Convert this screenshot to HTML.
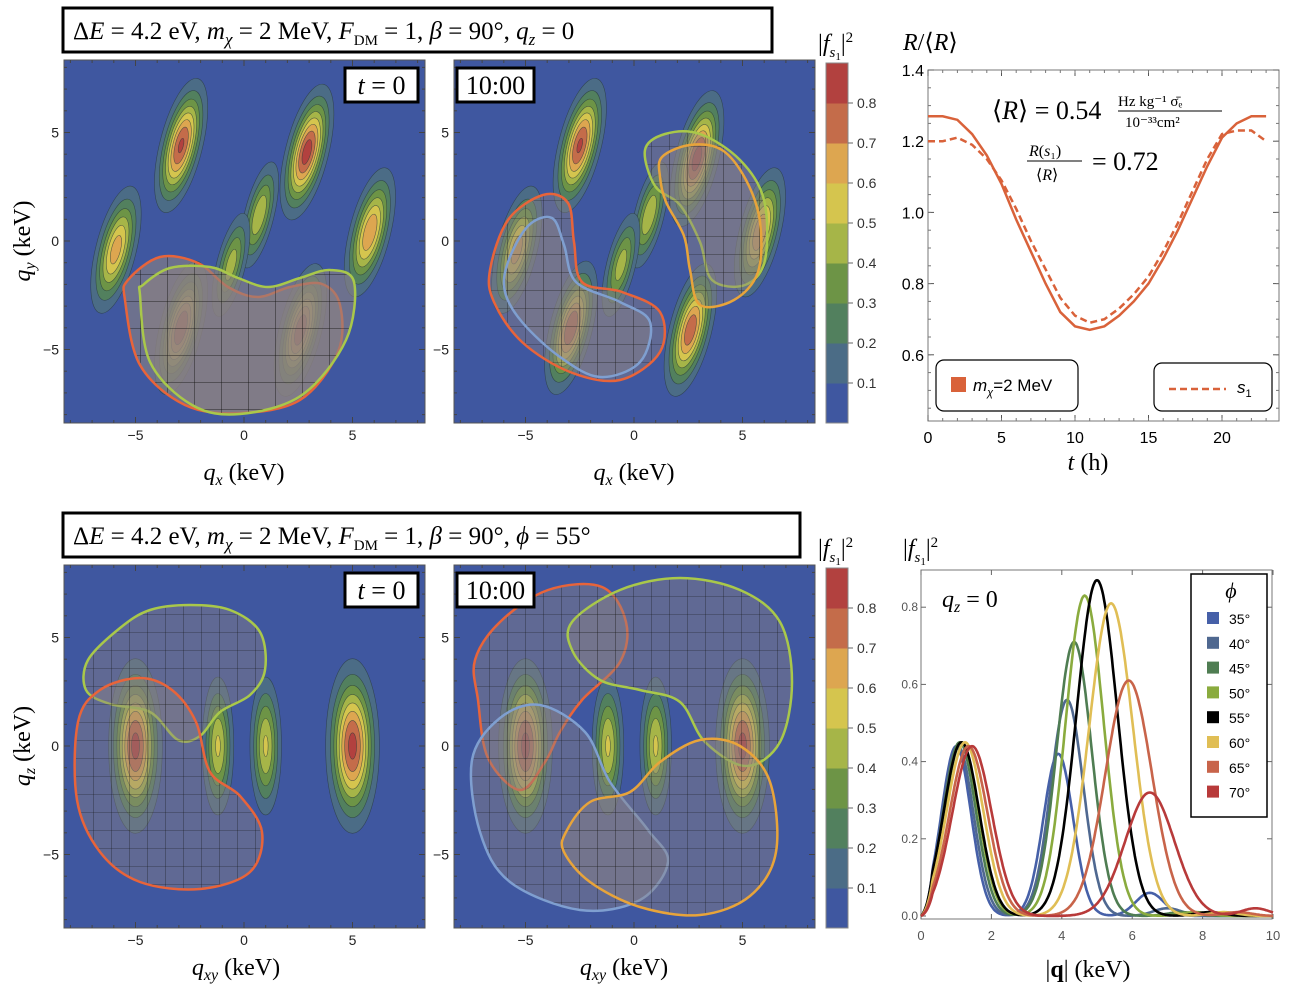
<!DOCTYPE html>
<html><head><meta charset="utf-8"><style>
body{margin:0;background:#fff}
svg{display:block;font-family:"Liberation Sans",sans-serif}
.serif{font-family:"Liberation Serif",serif}
</style></head><body>
<svg id="fig" width="1291" height="991" viewBox="0 0 1291 991" xmlns="http://www.w3.org/2000/svg">
<defs>
<pattern id="grid27" width="27" height="27" patternUnits="userSpaceOnUse" x="5" y="4"><rect width="27" height="27" fill="rgba(140,130,130,0.6)"/><path d="M0 0H27M0 0V27" stroke="#111" stroke-width="0.8"/></pattern>
<pattern id="grid18" width="18" height="18" patternUnits="userSpaceOnUse" x="3" y="2"><rect width="18" height="18" fill="rgba(140,130,130,0.42)"/><path d="M0 0H18M0 0V18" stroke="#111" stroke-width="0.6"/></pattern>
<clipPath id="c1"><rect x="64" y="60" width="361" height="363"/></clipPath>
<clipPath id="c2"><rect x="454" y="60" width="361" height="363"/></clipPath>
<clipPath id="c3"><rect x="64" y="565" width="361" height="363"/></clipPath>
<clipPath id="c4"><rect x="454" y="565" width="361" height="363"/></clipPath>
</defs>
<g id="root"></g>
</svg>
<script>
// ---------- data ----------
const hours=[0,1,2,3,4,5,6,7,8,9,10,11,12,13,14,15,16,17,18,19,20,21,22,23];
const rateTotal=[1.27,1.27,1.26,1.22,1.16,1.08,0.98,0.89,0.80,0.72,0.68,0.67,0.68,0.71,0.75,0.80,0.87,0.95,1.04,1.13,1.21,1.25,1.27,1.27];
const rateS1=[1.20,1.20,1.21,1.19,1.15,1.09,1.01,0.92,0.84,0.76,0.71,0.69,0.70,0.73,0.77,0.82,0.89,0.97,1.06,1.15,1.22,1.23,1.23,1.20];
const rTicks=[0.6,0.8,1.0,1.2,1.4];
const tTicks=[0,5,10,15,20];
const phiLabels=["35°","40°","45°","50°","55°","60°","65°","70°"];
const phiColors=["#4660a8","#4f6890","#4f7d52","#8aab3e","#000000","#e0be55","#c8644a","#b83a3a"];
const peak1Pos=[1.0,1.05,1.1,1.15,1.15,1.25,1.35,1.45];
const peak1Height=[0.44,0.44,0.45,0.45,0.45,0.45,0.44,0.44];
const peak2Pos=[3.9,4.15,4.35,4.65,5.0,5.4,5.9,6.5];
const peak2Height=[0.42,0.56,0.71,0.83,0.87,0.81,0.61,0.32];
const peak3Pos=[6.5,7.0,7.4,7.8,8.2,8.6,9.0,9.5];
const peak3Height=[0.06,0.02,0.01,0.01,0.01,0.01,0.01,0.02];
const qTicks=[0,2,4,6,8,10];
const fTicks=[0.0,0.2,0.4,0.6,0.8];
const levels=[0.1,0.2,0.3,0.4,0.5,0.6,0.7,0.8];
const levelColors=["#3f57a0","#4b6c86","#52805e","#6d9446","#a6b548","#d5c54e","#dda650","#c46c4a","#b2413f"];
const blobsTopX=[-5.9,-2.9,2.9,-2.9,2.6,5.8,0.7,-0.6];
const blobsTopY=[-0.4,4.4,4.1,-4.0,-4.1,0.4,1.2,-1.1];
const blobsTopP=[0.66,0.82,0.86,0.80,0.78,0.70,0.50,0.46];
const blobsBotX=[-5.0,-1.2,1.0,5.0];
const blobsBotP=[0.84,0.52,0.52,0.84];

const NS="http://www.w3.org/2000/svg";
const root=document.getElementById('root');
function el(tag,attrs,parent,text){const e=document.createElementNS(NS,tag);for(const k in attrs)e.setAttribute(k,attrs[k]);if(text!==undefined)e.textContent=text;(parent||root).appendChild(e);return e;}

const S=21.7;
function panel(x0,y0,cx,cy,clip,name){
  const g=el('g',{'clip-path':'url(#'+clip+')'});
  
  
  el('rect',{x:x0,y:y0,width:361,height:363,fill:levelColors[0]},g);
  return g;
}
function blob(g,cx,cy,x,y,p,sx,sy,ang){
  for(let k=0;k<levels.length;k++){
    if(levels[k]>=p)break;
    const r=Math.sqrt(2*Math.log(p/levels[k]));
    const e=el('ellipse',{cx:cx+x*S,cy:cy-y*S,rx:r*sx*S,ry:r*sy*S,fill:levelColors[k+1],stroke:'#2a3a3a','stroke-width':0.6,'stroke-opacity':0.7,transform:`rotate(${ang} ${cx+x*S} ${cy-y*S})`},g);
    
    
  }
}
function smooth(pts){
  let d=`M${pts[0][0]},${pts[0][1]}`;const n=pts.length;
  for(let i=0;i<n;i++){const p0=pts[(i-1+n)%n],p1=pts[i],p2=pts[(i+1)%n],p3=pts[(i+2)%n];
    d+=`C${p1[0]+(p2[0]-p0[0])/6},${p1[1]+(p2[1]-p0[1])/6} ${p2[0]-(p3[0]-p1[0])/6},${p2[1]-(p3[1]-p1[1])/6} ${p2[0]},${p2[1]}`;}
  return d+'Z';
}
function region(g,pts,color,pat,name){
  const p=el('path',{d:smooth(pts),fill:`url(#${pat})`,stroke:color,'stroke-width':2.5},g);
  
  
}
function axesBox(x0,y0,cx,cy){
  el('rect',{x:x0,y:y0,width:361,height:363,fill:'none',stroke:'#555','stroke-width':1});
  [-5,0,5].forEach(v=>{
    const t=el('text',{x:cx+v*S,y:y0+380,'font-size':14,'text-anchor':'middle',fill:'#222'},root,v<0?'−'+(-v):String(v));
    
    const t2=el('text',{x:x0-5,y:cy-v*S+5,'font-size':14,'text-anchor':'end',fill:'#222'},root,v<0?'−'+(-v):String(v));
    
  });
  for(let v=-8;v<=8;v++){
    el('line',{x1:cx+v*S,x2:cx+v*S,y1:y0+363,y2:y0+363-(v%5?3:6),stroke:'#444'});
    el('line',{x1:cx+v*S,x2:cx+v*S,y1:y0,y2:y0+(v%5?3:6),stroke:'#444'});
    el('line',{y1:cy-v*S,y2:cy-v*S,x1:x0,x2:x0+(v%5?3:6),stroke:'#444'});
    el('line',{y1:cy-v*S,y2:cy-v*S,x1:x0+361,x2:x0+361-(v%5?3:6),stroke:'#444'});
  }
}
function label(x,y,w,html,name){
  const r=el('rect',{x:x,y:y,width:w,height:34,fill:'#fff',stroke:'#000','stroke-width':3});
  
  el('text',{x:x+w/2,y:y+26,'font-size':26,'text-anchor':'middle',class:'serif'},root,'').innerHTML=html;
}
const T0='<tspan font-style="italic">t</tspan> = 0';

function topBlobs(g,cx,shift){
  blobsTopX.forEach((x,i)=>{
    const small=i>5;
    blob(g,cx,241,x+(shift?(i==0?0.5:i==1?0.4:0):0),blobsTopY[i]-(shift&&i==2?0.3:0),blobsTopP[i],small?0.38:0.48,small?1.4:1.55,14);
  });
}
// Panel 1
let g=panel(64,60,244,241,'c1','heatmap-top-t0');
topBlobs(g,244,false);
region(g,[[125,300],[140,365],[185,405],[240,413],[300,400],[338,352],[340,305],[322,284],[290,287],[258,297],[228,287],[198,263],[160,257],[128,280]],'#e8643a','grid27','region-orange');
region(g,[[140,295],[150,362],[192,405],[240,414],[302,395],[346,340],[354,282],[330,270],[300,278],[268,287],[238,278],[210,267],[170,268],[143,285]],'#a9c84a','grid27','region-green');
axesBox(64,60,244,241);
label(345,68,73,T0,'time-label-t0');
// Panel 2
g=panel(454,60,634,241,'c2','heatmap-top-t10');
topBlobs(g,634,true);
region(g,[[490,270],[508,220],[543,195],[568,203],[574,242],[582,282],[622,292],[660,312],[660,352],[620,380],[570,372],[522,342],[494,302]],'#e8643a','grid18','region-red');
region(g,[[508,262],[528,226],[552,218],[564,245],[576,282],[620,302],[650,322],[640,362],[600,377],[560,357],[522,322],[505,292]],'#7f9fd0','grid18','region-blue');
region(g,[[645,150],[665,134],[700,134],[740,160],[764,200],[765,260],[745,285],[712,280],[700,242],[680,205],[655,186]],'#a9c84a','grid18','region-green');
region(g,[[662,157],[690,145],[722,150],[746,180],[760,222],[758,272],[734,300],[700,305],[690,270],[684,236],[666,202],[660,177]],'#e8a43a','grid18','region-orange');
axesBox(454,60,634,241);
label(457,68,77,'10:00','time-label-1000');
// Panel 3
function botBlobs(g,cx){blobsBotX.forEach((x,i)=>blob(g,cx,746,x,0,blobsBotP[i],i%3?0.4:0.6,i%3?1.75:1.95,0));}
g=panel(64,565,244,746,'c3','heatmap-bottom-t0');
botBlobs(g,244);
region(g,[[88,660],[120,628],[150,610],[190,605],[230,610],[260,632],[265,670],[250,695],[220,712],[200,736],[178,740],[150,712],[110,704],[86,690]],'#a9c84a','grid18','region-green');
region(g,[[78,722],[100,690],[140,678],[172,690],[196,722],[210,772],[240,796],[262,832],[250,872],[200,889],[140,882],[100,852],[77,800]],'#e8643a','grid18','region-orange');
axesBox(64,565,244,746);
label(345,573,73,T0,'time-label-t0-bottom');
// Panel 4
g=panel(454,565,634,746,'c4','heatmap-bottom-t10');
botBlobs(g,634);
region(g,[[475,660],[500,622],[548,590],[602,587],[626,622],[620,662],[582,700],[560,732],[545,762],[520,790],[488,758],[478,700]],'#e8643a','grid18','region-red');
region(g,[[472,760],[500,718],[540,705],[585,732],[610,782],[648,830],[668,862],[640,900],[580,910],[510,882],[480,832]],'#7f9fd0','grid18','region-blue');
region(g,[[572,622],[620,590],[680,578],[740,590],[780,622],[792,682],[780,742],[746,766],[705,742],[680,702],[640,690],[600,680],[573,652]],'#a9c84a','grid18','region-green');
region(g,[[566,832],[590,802],[630,792],[660,762],[700,740],[740,746],[770,782],[776,852],[750,896],[700,915],[640,907],[590,882],[564,852]],'#e8a43a','grid18','region-orange');
axesBox(454,565,634,746);
label(457,573,77,'10:00','time-label-1000-bottom');

// axis titles
[[244,480],[634,480]].forEach(p=>{const t=el('text',{x:p[0],y:p[1],'font-size':24,'text-anchor':'middle',class:'serif'},root,'');t.innerHTML='<tspan font-style="italic">q</tspan><tspan font-size="16" dy="5" font-style="italic">x</tspan><tspan dy="-5">  (keV)</tspan>';});
[[236,975],[624,975]].forEach(p=>{const t=el('text',{x:p[0],y:p[1],'font-size':24,'text-anchor':'middle',class:'serif'},root,'');t.innerHTML='<tspan font-style="italic">q</tspan><tspan font-size="16" dy="5" font-style="italic">xy</tspan><tspan dy="-5">  (keV)</tspan>';});
[[30,241,'y'],[30,746,'z']].forEach(p=>{const t=el('text',{x:0,y:0,'font-size':24,'text-anchor':'middle',class:'serif',transform:`translate(${p[0]},${p[1]}) rotate(-90)`},root,'');t.innerHTML=`<tspan font-style="italic">q</tspan><tspan font-size="16" dy="5" font-style="italic">${p[2]}</tspan><tspan dy="-5">  (keV)</tspan>`;});

// titles
function title(x,y,w,html,name){const r=el('rect',{x:x,y:y,width:w,height:44,fill:'#fff',stroke:'#000','stroke-width':3});
 const t=el('text',{x:x+10,y:y+31,'font-size':25,class:'serif'},root,'');t.innerHTML=html;}
title(63,8,709,'Δ<tspan font-style="italic">E</tspan> = 4.2 eV,    <tspan font-style="italic">m</tspan><tspan font-size="17" dy="6" font-style="italic">χ</tspan><tspan dy="-6"> = 2 MeV,    </tspan><tspan font-style="italic">F</tspan><tspan font-size="15" dy="6">DM</tspan><tspan dy="-6"> = 1,    </tspan><tspan font-style="italic">β</tspan> = 90°,    <tspan font-style="italic">q</tspan><tspan font-size="17" dy="6" font-style="italic">z</tspan><tspan dy="-6"> = 0</tspan>','title-top');
title(63,513,737,'Δ<tspan font-style="italic">E</tspan> = 4.2 eV,    <tspan font-style="italic">m</tspan><tspan font-size="17" dy="6" font-style="italic">χ</tspan><tspan dy="-6"> = 2 MeV,    </tspan><tspan font-style="italic">F</tspan><tspan font-size="15" dy="6">DM</tspan><tspan dy="-6"> = 1,    </tspan><tspan font-style="italic">β</tspan> = 90°,     <tspan font-style="italic">ϕ</tspan> = 55°','title-bottom');

// colorbars
function colorbar(x,y,h,name){
  const cg=el('g',{});
  const seg=h/9;
  for(let i=0;i<9;i++){el('rect',{x:x,y:y+h-(i+1)*seg,width:22,height:seg+0.5,fill:levelColors[i]},cg);}
  el('rect',{x:x,y:y,width:22,height:h,fill:'none',stroke:'#888'},cg);
  levels.forEach((v,i)=>{const yy=y+h-(i+1)*seg;el('line',{x1:x+22,x2:x+27,y1:yy,y2:yy,stroke:'#666'},cg);
    el('text',{x:x+31,y:yy+5,'font-size':14,fill:'#333'},cg,v.toFixed(1));});
  const t=el('text',{x:x-8,y:y-12,'font-size':24,class:'serif'},root,'');
  t.innerHTML='|<tspan font-style="italic">f</tspan><tspan font-size="15" dy="6" font-style="italic">s</tspan><tspan font-size="11" dy="3">1</tspan><tspan dy="-9">|</tspan><tspan font-size="15" dy="-9">2</tspan>';
}
colorbar(826,63,360,'colorbar-top');
colorbar(826,568,360,'colorbar-bottom');

// ---------- rate chart ----------
const rx0=928,rx1=1279,ry0=70,ry1=421;
const xR=t=>rx0+t*14.7, yR=v=>ry0+(1.4-v)*356;
el('rect',{x:rx0,y:ry0,width:rx1-rx0,height:ry1-ry0,fill:'#fff',stroke:'#777'});
rTicks.forEach(v=>{el('text',{x:rx0-4,y:yR(v)+6,'font-size':16,'text-anchor':'end'},root,v.toFixed(1));el('line',{x1:rx0,x2:rx0+6,y1:yR(v),y2:yR(v),stroke:'#555'});el('line',{x1:rx1,x2:rx1-6,y1:yR(v),y2:yR(v),stroke:'#555'});});
for(let v=0.45;v<1.4;v+=0.05){el('line',{x1:rx0,x2:rx0+3,y1:yR(v),y2:yR(v),stroke:'#777'});el('line',{x1:rx1,x2:rx1-3,y1:yR(v),y2:yR(v),stroke:'#777'});}
tTicks.forEach(v=>{el('text',{x:xR(v),y:ry1+22,'font-size':16,'text-anchor':'middle'},root,String(v));el('line',{x1:xR(v),x2:xR(v),y1:ry1,y2:ry1-6,stroke:'#555'});el('line',{x1:xR(v),x2:xR(v),y1:ry0,y2:ry0+6,stroke:'#555'});});
for(let v=1;v<24;v++){el('line',{x1:xR(v),x2:xR(v),y1:ry1,y2:ry1-3,stroke:'#777'});el('line',{x1:xR(v),x2:xR(v),y1:ry0,y2:ry0+3,stroke:'#777'});}
let lt=el('path',{d:hours.map((h,i)=>(i?'L':'M')+xR(h)+','+yR(rateTotal[i])).join(''),fill:'none',stroke:'#d9623a','stroke-width':2.5});

let ls=el('path',{d:hours.map((h,i)=>(i?'L':'M')+xR(h)+','+yR(rateS1[i])).join(''),fill:'none',stroke:'#d9623a','stroke-width':2.5,'stroke-dasharray':'7,4'});

let tt=el('text',{x:903,y:50,'font-size':24,class:'serif'},root,'');tt.innerHTML='<tspan font-style="italic">R</tspan>/⟨<tspan font-style="italic">R</tspan>⟩';

let xt=el('text',{x:1088,y:470,'font-size':24,'text-anchor':'middle',class:'serif'},root,'');xt.innerHTML='<tspan font-style="italic">t</tspan>  (h)';

el('text',{x:992,y:119,'font-size':26,class:'serif'},root,'').innerHTML='⟨<tspan font-style="italic">R</tspan>⟩ = 0.54';
el('text',{x:1118,y:106,'font-size':15,class:'serif'},root,'Hz kg⁻¹ σ̄ₑ');
el('line',{x1:1118,x2:1222,y1:111,y2:111,stroke:'#000'});
el('text',{x:1125,y:127,'font-size':15,class:'serif'},root,'10⁻³³cm²');
el('text',{x:1029,y:156,'font-size':16,class:'serif'},root,'').innerHTML='<tspan font-style="italic">R</tspan>(<tspan font-style="italic">s</tspan>₁)';
el('line',{x1:1027,x2:1082,y1:161,y2:161,stroke:'#000'});
el('text',{x:1036,y:180,'font-size':16,class:'serif'},root,'').innerHTML='⟨<tspan font-style="italic">R</tspan>⟩';
el('text',{x:1092,y:170,'font-size':26,class:'serif'},root,'= 0.72');
let lg1=el('rect',{x:936,y:360,width:142,height:51,rx:8,fill:'#fff',stroke:'#000','stroke-width':1.2});
el('rect',{x:951,y:377,width:15,height:15,fill:'#d9623a'});
el('text',{x:973,y:391,'font-size':17},root,'').innerHTML='<tspan font-style="italic">m</tspan><tspan font-size="11" dy="5" font-style="italic">χ</tspan><tspan dy="-5">=2 MeV</tspan>';
let lg2=el('rect',{x:1154,y:363,width:118,height:48,rx:8,fill:'#fff',stroke:'#000','stroke-width':1.2});
el('line',{x1:1169,x2:1226,y1:389,y2:389,stroke:'#d9623a','stroke-width':2.5,'stroke-dasharray':'7,4'});
el('text',{x:1237,y:393,'font-size':17},root,'').innerHTML='<tspan font-style="italic">s</tspan><tspan font-size="11" dy="4">1</tspan>';

// ---------- form factor chart ----------
const fx0=921,fx1=1272,fy0=570,fy1=919;
const xF=q=>fx0+q*35.2, yF=v=>916-v*386;
el('rect',{x:fx0,y:fy0,width:fx1-fx0,height:fy1-fy0,fill:'#fff',stroke:'#777'});
fTicks.forEach(v=>{el('text',{x:fx0-3,y:yF(v)+4,'font-size':12,'text-anchor':'end',fill:'#555'},root,v.toFixed(1));el('line',{x1:fx0,x2:fx0+5,y1:yF(v),y2:yF(v),stroke:'#666'});el('line',{x1:fx1,x2:fx1-5,y1:yF(v),y2:yF(v),stroke:'#666'});});
qTicks.forEach(v=>{el('text',{x:xF(v),y:fy1+21,'font-size':13,'text-anchor':'middle',fill:'#555'},root,String(v));el('line',{x1:xF(v),x2:xF(v),y1:fy1,y2:fy1-5,stroke:'#666'});el('line',{x1:xF(v),x2:xF(v),y1:fy0,y2:fy0+5,stroke:'#666'});});
function ff(i,q){const g=(c,h,s)=>h*Math.exp(-((q-c)**2)/(2*s*s));
  return Math.min(q*3,1)*g(peak1Pos[i],peak1Height[i],0.42+0.02*i)+g(peak2Pos[i],peak2Height[i],0.42+0.04*i)+g(peak3Pos[i],peak3Height[i],0.4);}
phiLabels.forEach((lab,i)=>{let d='';for(let k=0;k<=400;k++){const q=k*0.025;d+=(k?'L':'M')+xF(q).toFixed(1)+','+yF(ff(i,q)).toFixed(1);}
  const p=el('path',{d:d,fill:'none',stroke:phiColors[i],'stroke-width':2.6});
  
  });
let ft=el('text',{x:903,y:556,'font-size':24,class:'serif'},root,'');ft.innerHTML='|<tspan font-style="italic">f</tspan><tspan font-size="15" dy="6" font-style="italic">s</tspan><tspan font-size="11" dy="3">1</tspan><tspan dy="-9">|</tspan><tspan font-size="15" dy="-9">2</tspan>';

el('text',{x:942,y:607,'font-size':24,class:'serif'},root,'').innerHTML='<tspan font-style="italic">q</tspan><tspan font-size="16" dy="5" font-style="italic">z</tspan><tspan dy="-5"> = 0</tspan>';
let qx=el('text',{x:1088,y:977,'font-size':24,'text-anchor':'middle',class:'serif'},root,'');qx.innerHTML='|<tspan font-weight="bold">q</tspan>|  (keV)';

let lg=el('rect',{x:1191,y:574,width:76,height:243,fill:'#fff',stroke:'#000','stroke-width':1.5});
el('text',{x:1231,y:598,'font-size':22,'text-anchor':'middle',class:'serif','font-style':'italic'},root,'ϕ');
phiLabels.forEach((lab,i)=>{const y=612+i*24.8;
  const r=el('rect',{x:1207,y:y,width:12,height:12,fill:phiColors[i]});
  el('text',{x:1229,y:y+12,'font-size':14},root,lab);});
</script>
</body></html>
